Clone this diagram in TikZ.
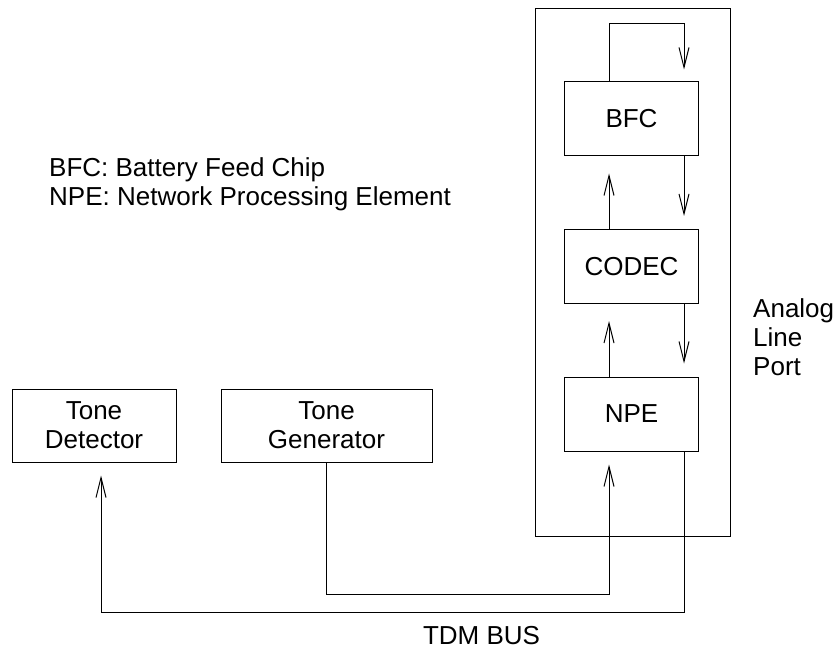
\documentclass[tikz,border=0pt]{standalone}
\usepackage{fontspec}
\setmainfont{Liberation Sans}
\usetikzlibrary{positioning, arrows.meta}

\begin{document}
\begin{tikzpicture}[
    x=1pt, y=-1pt,
    node distance=72.5pt,
    font=\fontsize{26}{29}\selectfont,
    chip/.style={rectangle, draw=black, line width=1pt, minimum width=134pt, minimum height=74pt, inner sep=0pt, align=center},
    unit/.style={chip, minimum height=73pt},
    portbox/.style={rectangle, draw=black, line width=1pt, minimum width=195pt, minimum height=527pt, inner sep=0pt},
    sig/.style={-{Straight Barb[length=20pt, width=10pt]}, line width=1pt, shorten >=13pt},
    lbl/.style={inner sep=0pt, align=left}
]
\useasboundingbox (0,0) rectangle (835,652);

% Nodes
\node[portbox] (port) at (632.5,272.5) {};
\node[chip] (bfc) at (631.5,119) {BFC};
\node[chip, below=of bfc] (codec) {CODEC};
\node[chip, below=of codec] (npe) {NPE};
\node[unit, minimum width=164pt] (det) at (94,425.5) {Tone\\Detector};
\node[unit, minimum width=211pt] (gen) at (326.5,425.5) {Tone\\Generator};

% Labels
\node[lbl, anchor=west] (legend) at (49,184.5) {BFC: Battery Feed Chip\\NPE: Network Processing Element};
\node[lbl, anchor=west] (portname) at (753,337.5) {Analog\\Line\\Port};
\node[anchor=base, inner sep=0pt] (tdm) at (481.5,644) {TDM BUS};

% Lanes
\coordinate (upx) at (609,0);
\coordinate (dnx) at (684,0);
\coordinate (detx) at (101,0);

% Arrows
\draw[sig, shorten >=12pt] (bfc.north -| upx) -- ++(0,-58) -| (bfc.north -| dnx);
\draw[sig] (bfc.south -| dnx) -- (codec.north -| dnx);
\draw[sig, shorten >=17pt] (codec.north -| upx) -- (bfc.south -| upx);
\draw[sig] (codec.south -| dnx) -- (npe.north -| dnx);
\draw[sig, shorten >=17pt] (npe.north -| upx) -- (codec.south -| upx);
\draw[sig] (gen.south) -- ++(0,132) -| (npe.south -| upx);
\draw[sig] (npe.south -| dnx) -- ++(0,161) -| (det.south -| detx);
\end{tikzpicture}
\end{document}
